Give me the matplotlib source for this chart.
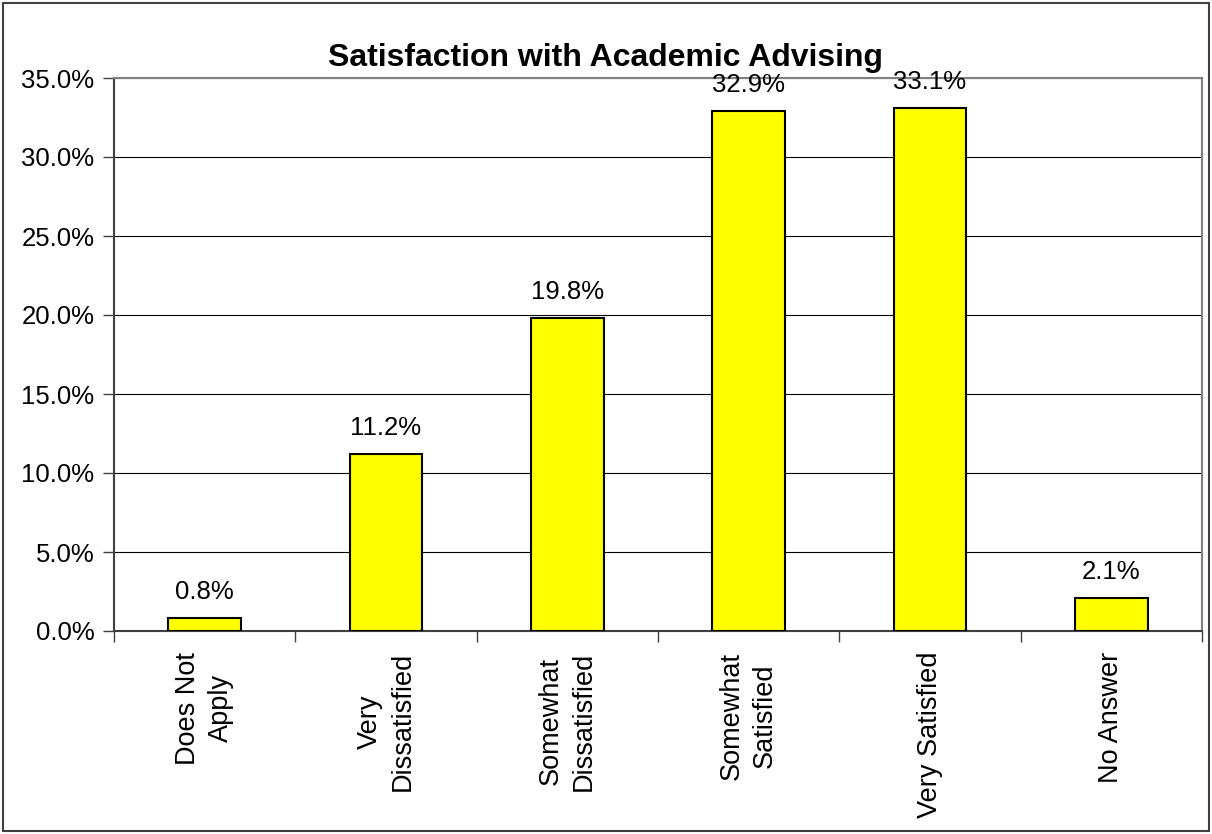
import numpy as np
import matplotlib.pyplot as plt
from matplotlib.patches import Rectangle

# datos
categorias = ["Does Not\nApply", "Very\nDissatisfied", "Somewhat\nDissatisfied",
              "Somewhat\nSatisfied", "Very Satisfied", "No Answer"]
valores = [0.8, 11.2, 19.8, 32.9, 33.1, 2.1]
etiquetas = ["0.8%", "11.2%", "19.8%", "32.9%", "33.1%", "2.1%"]
yticks = [0, 5, 10, 15, 20, 25, 30, 35]

plt.rcParams['font.family'] = ['Liberation Sans', 'DejaVu Sans']

fig = plt.figure(figsize=(12.12, 8.34), dpi=100)
ax = fig.add_axes([114 / 1212, 1 - 631 / 834, (1202 - 114) / 1212, (631 - 78) / 834])

x = np.arange(len(categorias))
ax.bar(x, valores, width=0.4, color="#FFFF00", edgecolor="black", linewidth=1.5, zorder=3)

for xi, v, t in zip(x, valores, etiquetas):
    ax.annotate(t, (xi, v), xytext=(0, 10), textcoords="offset points",
                ha="center", va="bottom", fontsize=18.5, zorder=4)

ax.set_xlim(-0.5, len(categorias) - 0.5)
ax.set_ylim(0, 35)
ax.set_yticks(yticks)
ax.set_yticklabels([f"{v:.1f}%" for v in yticks], fontsize=18.5)
ax.yaxis.grid(True, color="black", linewidth=0.8, zorder=0)

# ticks de x en los limites de categoria
ax.set_xticks(np.arange(-0.5, len(categorias), 1.0))
ax.set_xticklabels([])
ax.set_xticks(x, minor=True)
ax.set_xticklabels(categorias, minor=True, rotation=90, fontsize=19.5, va="top", ha="center",
                   multialignment="center", linespacing=1.35)
ax.tick_params(axis="x", which="minor", length=0, pad=15)
ax.tick_params(axis="x", which="major", length=8, width=1, direction="out", color="#404040")
ax.tick_params(axis="y", length=8, width=1, direction="out", color="#404040", pad=6)

for lado in ["top", "right"]:
    ax.spines[lado].set_color("#808080")
    ax.spines[lado].set_linewidth(1.5)
for lado in ["left", "bottom"]:
    ax.spines[lado].set_color("#404040")
    ax.spines[lado].set_linewidth(1.5)

fig.text(0.5, 1 - 58 / 834, "Satisfaction with Academic Advising", ha="center", va="center",
         fontsize=23, fontweight="bold")

# borde exterior
fig.patches.append(Rectangle((3 / 1212, 3 / 834), 1 - 6 / 1212, 1 - 6 / 834,
                             transform=fig.transFigure, fill=False,
                             edgecolor="#404040", linewidth=1.5))

plt.savefig("out.png", dpi=100)
